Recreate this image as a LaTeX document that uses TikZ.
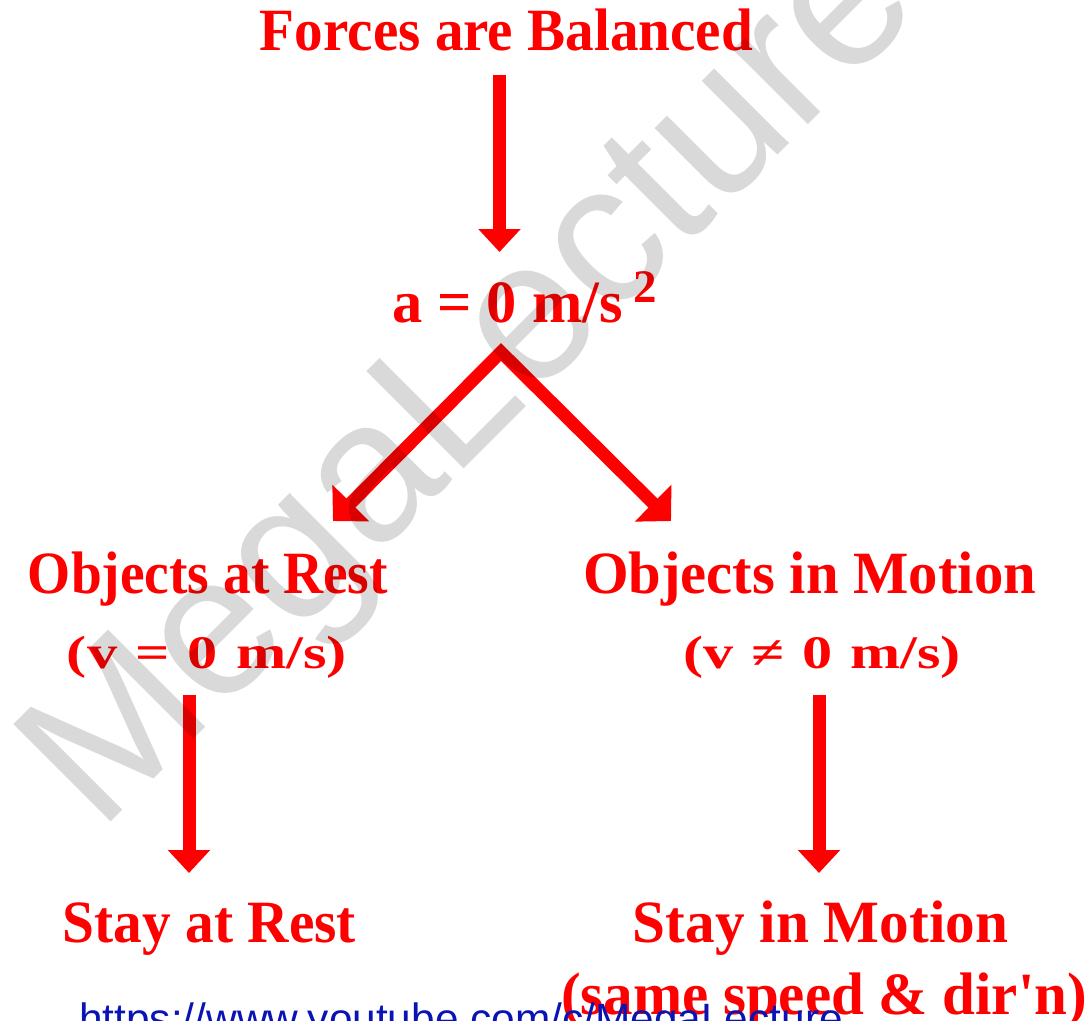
\documentclass[tikz,border=0pt]{standalone}
\usepackage{fontspec}
\setmainfont{Liberation Serif}
\newfontfamily\wmfont{Liberation Sans}
\usetikzlibrary{arrows.meta}
\definecolor{tred}{RGB}{255,0,0}
\definecolor{wmgray}{RGB}{217,217,217}
\definecolor{urlblue}{RGB}{10,20,180}
\newcommand{\fitw}[2]{\resizebox{#1}{\height}{#2}}
\begin{document}
\begin{tikzpicture}[x=0.75pt,y=-0.75pt,
  lbl/.style={inner sep=0pt, anchor=base, text=tred, font=\fontsize{45}{50}\selectfont\bfseries},
  sublbl/.style={lbl, font=\fontsize{35}{40}\selectfont\bfseries},
  varr/.style={draw=tred, line width=9.75pt, -{Triangle[width=30.75pt,length=17.25pt]}},
  darr/.style={draw=tred, line width=9.5pt, line join=miter,
     {Triangle[width=38pt,length=19pt]}-{Triangle[width=38pt,length=19pt]}}]
\useasboundingbox (0,0) rectangle (1090,1021);
\fill[white] (0,0) rectangle (1090,1021);

% texts
\node[lbl] (forces) at (506.5,50) {\fitw{369.75pt}{Forces are Balanced}};
\node[lbl] (acc) at (524.5,322) {\fitw{198.75pt}{a = 0 m/s\hspace{8pt}\raisebox{15pt}{\fontsize{35}{40}\selectfont 2}}};
\node[lbl] (rest1) at (208,593) {\fitw{270pt}{Objects at Rest}};
\node[sublbl] (rest2) at (207,668) {\fitw{210pt}{(v\hspace{0.3em}=\hspace{0.3em}0\hspace{0.3em}m/s)}};
\node[lbl] (mot1) at (809.5,593) {\fitw{339.75pt}{Objects in Motion}};
\node[sublbl] (mot2) at (822,668) {\fitw{208.5pt}{(v\hspace{0.3em}≠\hspace{0.3em}0\hspace{0.3em}m/s)}};
\node[lbl] (stay1) at (209.5,942) {\fitw{219.75pt}{Stay at Rest}};
\node[lbl] (stay2) at (820.5,942) {\fitw{281.25pt}{Stay in Motion}};
\node[lbl] (same) at (824,1014) {\fitw{394.5pt}{(same speed \& dir\textquotesingle n)}};

% arrows
\coordinate (a1s) at (499.5,75);
\coordinate (a1e) at (499.5,252);
\coordinate (apex) at (501,352);
\coordinate (tipL) at (333,521);
\coordinate (tipR) at (671,521);
\coordinate (a2s) at (189,695);
\coordinate (a2e) at (189,873);
\coordinate (a3s) at (819,695);
\coordinate (a3e) at (819,873);
\draw[varr] (a1s) -- (a1e);
\draw[darr] (tipL) -- (apex) -- (tipR);
\draw[varr] (a2s) -- (a2e);
\draw[varr] (a3s) -- (a3e);

% url
\node[anchor=base west, inner sep=0pt, text=urlblue, font=\wmfont\fontsize{31.8}{34}\selectfont] (url) at (79,1033) {https://www.youtube.com/c/MegaLecture};

% watermark
\begin{scope}[blend mode=multiply]
\node[anchor=base west, rotate=45, inner sep=0pt, text=wmgray, font=\wmfont\fontsize{150}{150}\selectfont] (wm) at (99,834) {MegaLecture};
\end{scope}
\end{tikzpicture}
\end{document}
